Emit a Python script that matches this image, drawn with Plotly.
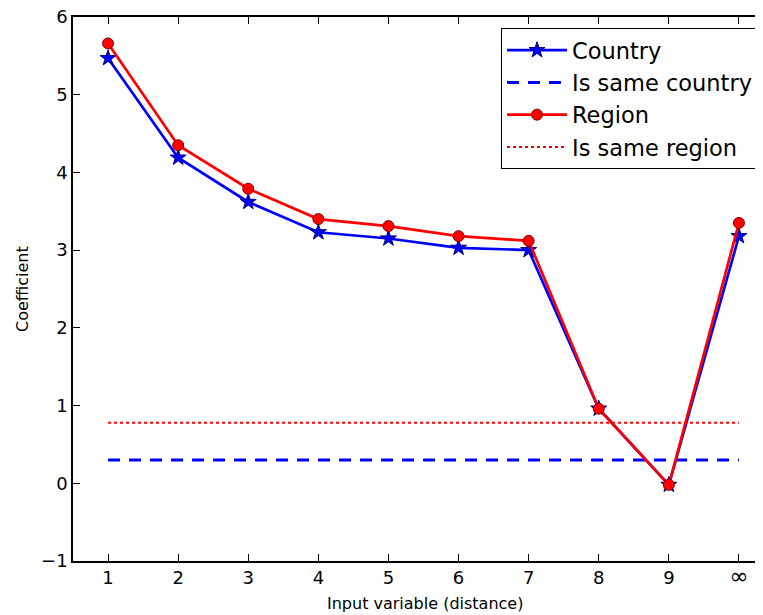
import plotly.graph_objects as go

categories = ["1", "2", "3", "4", "5", "6", "7", "8", "9", "∞"]
country = [5.47, 4.19, 3.62, 3.23, 3.15, 3.03, 3.00, 0.96, -0.02, 3.18]
region = [5.66, 4.35, 3.79, 3.40, 3.31, 3.18, 3.12, 0.96, -0.02, 3.35]
is_same_country = 0.30
is_same_region = 0.78

FONT = "DejaVu Sans"

# page body has an 8px default margin; plot area should span x 73..774, y 17..561 on screen
OFF = 8
PL, PR, PT, PB = 73, 774, 17, 561
W = PR - OFF          # figure width (right part cropped by window)
H = 615 - OFF

fig = go.Figure()
fig.add_trace(go.Scatter(
    x=categories, y=country, name="Country", mode="lines+markers",
    line=dict(color="#0000ff", width=2.7),
    marker=dict(symbol="star", size=12, color="#0000ff", line=dict(color="#000080", width=1)),
))
fig.add_trace(go.Scatter(
    x=[categories[0], categories[-1]], y=[is_same_country, is_same_country],
    name="Is same country", mode="lines",
    line=dict(color="#0000ff", width=3, dash="12px,9px"),
))
fig.add_trace(go.Scatter(
    x=categories, y=region, name="Region", mode="lines+markers",
    line=dict(color="#ff0000", width=2.7),
    marker=dict(symbol="circle", size=11, color="#ff0000", line=dict(color="#800000", width=1)),
))
fig.add_trace(go.Scatter(
    x=[categories[0], categories[-1]], y=[is_same_region, is_same_region],
    name="Is same region", mode="lines",
    line=dict(color="#ff0000", width=2, dash="dot"),
))

pw = PR - PL
ph = PB - PT
ticktext = [c if c != "∞" else "<span style='font-size:23px'>∞</span>" for c in categories]

fig.update_layout(
    width=W, height=H,
    margin=dict(l=PL - OFF, r=0, t=PT - OFF, b=H + OFF - PB, autoexpand=False),
    paper_bgcolor="white", plot_bgcolor="white",
    font=dict(family=FONT, color="black", size=18),
    showlegend=True,
    legend=dict(
        x=(501 - PL) / pw, y=1 - (28 - PT) / ph, xanchor="left", yanchor="top",
        bordercolor="black", borderwidth=1, bgcolor="white",
        font=dict(family=FONT, size=22.5, color="black"),
        itemwidth=60, tracegroupgap=0,
    ),
    xaxis=dict(
        type="category", categoryorder="array", categoryarray=categories,
        range=[-0.5, len(categories) - 0.5],
        tickmode="array", tickvals=categories, ticktext=ticktext,
        showgrid=False, zeroline=False,
        showline=True, linecolor="black", linewidth=1.5, mirror="ticks",
        ticks="inside", ticklen=7, tickcolor="black",
        tickfont=dict(family=FONT, size=18),
        automargin=False, ticklabeloverflow="allow",
    ),
    yaxis=dict(
        range=[-1, 6], dtick=1, tick0=0,
        showgrid=False, zeroline=False,
        showline=True, linecolor="black", linewidth=1.5,
        ticks="inside", ticklen=7, tickcolor="black",
        tickfont=dict(family=FONT, size=18),
        automargin=False, ticklabeloverflow="allow",
    ),
    annotations=[
        dict(text="Coefficient", x=(22 - PL) / pw, y=0.5, xref="paper", yref="paper",
             xanchor="center", yanchor="middle",
             showarrow=False, textangle=-90, font=dict(family=FONT, size=16)),
        dict(text="Input variable (distance)", x=(425 - PL) / pw, y=-(603 - PB) / ph,
             xref="paper", yref="paper",
             xanchor="center", yanchor="middle", showarrow=False,
             font=dict(family=FONT, size=16)),
    ],
)

fig.write_html("out.html")
